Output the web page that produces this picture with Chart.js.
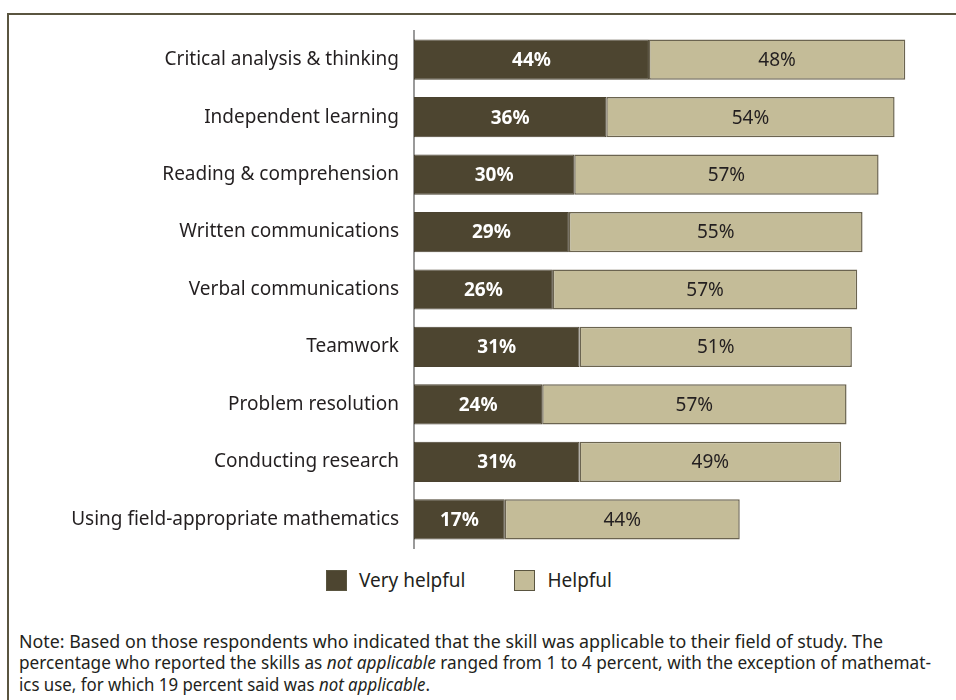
<!DOCTYPE html>
<html>
<head>
<meta charset="utf-8">
<script src="https://cdn.jsdelivr.net/npm/chart.js@4.4.1/dist/chart.umd.min.js"></script>
<style>
  body { margin: 0; background: #fff; width: 956px; height: 700px; overflow: hidden; position: relative; font-family: "Noto Sans", sans-serif; color: #231f20; }
  #frame { position: absolute; left: 7px; top: 13px; right: 0; bottom: 0; border-left: 2px solid #5a5540; border-top: 2px solid #5a5540; }
  #wrap { position: absolute; left: 8px; top: 14px; width: 948px; height: 545px; }
  #legend { position: absolute; top: 567px; left: 326px; display: flex; align-items: center; font-size: 19px; }
  #legend .box { width: 19px; height: 19px; border: 1px solid #5a5540; margin-right: 12px; }
  #legend .item { display: flex; align-items: center; margin-right: 49px; }
  #note { position: absolute; left: 19px; top: 631px; font-size: 17.8px; line-height: 21.3px; white-space: nowrap; }
  #note .line { display: block; width: max-content; transform-origin: 0 50%; }
</style>
</head>
<body>
<div id="frame"></div>
<div id="wrap"><canvas id="my-chart"></canvas></div>
<div id="legend"></div>
<div id="note">
  <span class="line" data-w="864">Note: Based on those respondents who indicated that the skill was applicable to their field of study. The</span>
  <span class="line" data-w="912">percentage who reported the skills as <i>not applicable</i> ranged from 1 to 4 percent, with the exception of mathemat-</span>
  <span class="line" data-w="411">ics use, for which 19 percent said was <i>not applicable</i>.</span>
</div>
<script>
'use strict';
// skills and percentages
let skills = [
  'Critical analysis & thinking',
  'Independent learning',
  'Reading & comprehension',
  'Written communications',
  'Verbal communications',
  'Teamwork',
  'Problem resolution',
  'Conducting research',
  'Using field-appropriate mathematics'
]
let veryHelpful = [44, 36, 30, 29, 26, 31, 24, 31, 17]
let helpful = [48, 54, 57, 55, 57, 51, 57, 49, 44]
let seriesNames = ['Very helpful', 'Helpful']
let darkColor = '#4d4530'
let lightColor = '#c4bc98'

// squeeze each note line to its set width
let noteLines = document.querySelectorAll('#note .line')
for (let i = 0; i < noteLines.length; i++) {
  let w = noteLines[i].getBoundingClientRect().width
  let target = Number(noteLines[i].dataset.w)
  noteLines[i].style.transform = `scaleX(${target / w})`
}

// legend built by hand so the spacing is easy to set
let legendDiv = document.getElementById('legend')
let colors = [darkColor, lightColor]
for (let i = 0; i < seriesNames.length; i++) {
  let item = document.createElement('div')
  item.className = 'item'
  let box = document.createElement('div')
  box.className = 'box'
  box.style.background = colors[i]
  item.appendChild(box)
  let txt = document.createElement('span')
  txt.textContent = seriesNames[i]
  item.appendChild(txt)
  legendDiv.appendChild(item)
}

// writes the % value in the middle of each bar piece
const barLabels = {
  id: 'barLabels',
  afterDatasetsDraw(chart) {
    const ctx = chart.ctx
    ctx.save()
    ctx.textAlign = 'center'
    ctx.textBaseline = 'middle'
    chart.data.datasets.forEach((ds, di) => {
      let meta = chart.getDatasetMeta(di)
      meta.data.forEach((bar, i) => {
        let cx = (bar.x + bar.base) / 2
        if (di === 0) {
          ctx.fillStyle = '#ffffff'
          ctx.font = 'bold 19px "Noto Sans"'
        } else {
          ctx.fillStyle = '#231f20'
          ctx.font = '19px "Noto Sans"'
        }
        ctx.fillText(ds.data[i] + '%', cx, bar.y + 1)
      })
    })
    ctx.restore()
  }
}

const ctx = document.getElementById('my-chart').getContext('2d')
const myChart = new Chart(ctx, {
  type: 'bar',
  data: {
    labels: skills,
    datasets: [{
      label: seriesNames[0],
      data: veryHelpful,
      backgroundColor: darkColor,
      borderColor: '#4a4230',
      borderWidth: 1,
      borderSkipped: false
    },
    {
      label: seriesNames[1],
      data: helpful,
      backgroundColor: lightColor,
      borderColor: '#6b6450',
      borderWidth: 1.5,
      borderSkipped: false
    }]
  },
  options: {
    indexAxis: 'y',
    responsive: true,
    maintainAspectRatio: false,
    animation: false,
    layout: { padding: { top: 17, bottom: 11, right: 8, left: 0 } },
    categoryPercentage: 0.7,
    barPercentage: 1,
    plugins: {
      legend: { display: false },
      tooltip: { enabled: false }
    },
    scales: {
      x: {
        stacked: true,
        min: 0,
        max: 100,
        display: false
      },
      y: {
        stacked: true,
        grid: { display: false, drawTicks: false },
        border: { display: true, color: '#9a9a9a', width: 2 },
        ticks: {
          color: '#231f20',
          padding: 15,
          font: { family: '"Noto Sans"', size: 19 }
        },
        afterFit(scale) {
          scale.width = 406
          scale.paddingTop = 0
          scale.paddingBottom = 0
        }
      }
    }
  },
  plugins: [barLabels]
})
</script>
</body>
</html>
